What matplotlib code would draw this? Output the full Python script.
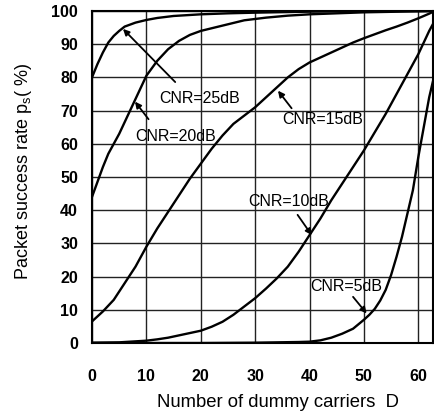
import matplotlib
matplotlib.use("Agg")
import matplotlib.pyplot as plt

plt.rcParams['font.family'] = ['Liberation Sans', 'DejaVu Sans']
plt.rcParams['mathtext.fontset'] = 'custom'
plt.rcParams['mathtext.rm'] = 'Liberation Sans'
plt.rcParams['mathtext.it'] = 'Liberation Sans'

# ---- data ----
x25 = [0, 1, 2, 3, 4, 5, 6, 8, 10, 12, 15, 20, 25, 30, 40, 50, 63]
y25 = [80, 84, 87.5, 90.5, 92.5, 94, 95.3, 96.5, 97.3, 97.9, 98.5, 99, 99.3, 99.5, 99.8, 100, 100]

x20 = [0, 1, 2, 3, 4, 5, 6, 7, 8, 9, 10, 12, 14, 16, 18, 20, 22, 25, 28, 32, 36, 40, 50, 63]
y20 = [44, 48.5, 53, 57, 60, 63, 66.5, 70, 73.5, 77, 80.5, 85, 88.5, 91, 92.8, 94, 94.8, 96, 97.2, 98, 98.6, 99, 99.6, 100]

x15 = [0, 2, 4, 6, 8, 10, 12, 14, 16, 18, 20, 22, 24, 26, 28, 30, 32, 34, 36, 38, 40,
       42, 44, 46, 48, 50, 52, 54, 56, 58, 60, 62, 63]
y15 = [6.5, 9.5, 13, 18, 23, 29, 34.5, 39.5, 44.5, 49.5, 54, 58.5, 62.5, 66, 68.5, 71, 74, 77, 80, 82.5, 84.5,
       86, 87.5, 89, 90.5, 91.8, 93, 94.2, 95.3, 96.5, 97.8, 99.2, 100]

x10 = [0, 5, 10, 12, 14, 16, 18, 20, 22, 24, 26, 28, 30, 32, 34, 36, 38, 40, 42, 44, 46,
       48, 50, 52, 54, 56, 58, 60, 62, 63]
y10 = [0.1, 0.2, 0.7, 1.1, 1.6, 2.3, 3, 3.7, 4.9, 6.4, 8.5, 11, 13.5, 16.4, 19.5, 23, 27.5, 32.5, 37.5, 43, 48,
       53, 58, 63.5, 69, 75, 81, 87, 94, 97]

x5 = [0, 20, 30, 38, 40, 42, 44, 46, 48, 50, 51, 52, 53, 54, 55, 56, 57, 58, 59, 60, 61, 62, 63]
y5 = [0, 0, 0.1, 0.3, 0.4, 0.8, 1.6, 2.8, 4.3, 7, 8.5, 10.3, 12.8, 16, 20.5, 26, 32, 39, 46, 56, 65, 74, 81]

xticks = [0, 10, 20, 30, 40, 50, 60]
yticks = [0, 10, 20, 30, 40, 50, 60, 70, 80, 90, 100]

labels = ["CNR=25dB", "CNR=20dB", "CNR=15dB", "CNR=10dB", "CNR=5dB"]
label_xy = [(19.7, 73.5), (15.3, 62.3), (42.5, 67.2), (36.1, 42.5), (46.8, 17.0)]
arrow_from = [(15.3, 78.6), (10.4, 67.4), (36.7, 70.7), (37.8, 38.6), (48.0, 13.9)]
arrow_to = [(5.7, 94.6), (7.9, 72.7), (34.2, 76.0), (40.4, 32.5), (50.5, 8.9)]

# ---- figure ----
fig = plt.figure(figsize=(4.34, 4.13), dpi=100)
ax = fig.add_axes([92/434, 70/413, 341/434, 332/413])

for xs, ys in [(x25, y25), (x20, y20), (x15, y15), (x10, y10), (x5, y5)]:
    ax.plot(xs, ys, color='black', lw=1.7, zorder=3, solid_capstyle='round')

ax.set_xlim(0, 62.7)
ax.set_ylim(0, 100)
ax.set_xticks(xticks)
ax.set_yticks(yticks)
ax.grid(True, color='#222222', lw=1.0, zorder=1)
ax.set_axisbelow(True)
ax.tick_params(length=0)
ax.tick_params(axis='x', pad=19, labelsize=11.5)
ax.tick_params(axis='y', pad=10, labelsize=11.5)
for t in ax.get_xticklabels() + ax.get_yticklabels():
    t.set_fontweight('bold')
for s in ax.spines.values():
    s.set_linewidth(1.5)
    s.set_color('black')

for lab, xy, a0, a1 in zip(labels, label_xy, arrow_from, arrow_to):
    ax.text(xy[0], xy[1], lab, ha='center', va='center', fontsize=11.5, zorder=5)
    ax.annotate('', xy=a1, xytext=a0,
                arrowprops=dict(arrowstyle='-|>', color='black', lw=1.3,
                                mutation_scale=9, shrinkA=0, shrinkB=0), zorder=5)

ax.set_xlabel("Number of dummy carriers  D", fontsize=13.3, va='center')
ax.xaxis.set_label_coords(0.544, -0.18)
ax.set_ylabel("Packet success rate p$_{\\rm s}$( %)", fontsize=13, va='center')
ax.yaxis.set_label_coords(-0.202, 0.516)

fig.savefig("out.png", dpi=100)
